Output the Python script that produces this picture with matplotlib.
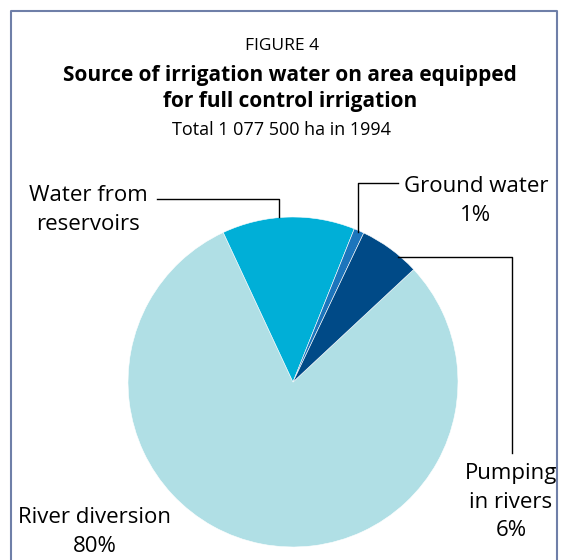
import matplotlib.pyplot as plt

W, H = 563, 560

labels = ["River diversion", "Water from\nreservoirs", "Ground water", "Pumping\nin rivers"]
shares = [80, 13, 1, 6]
colors = ["#b0dfe5", "#00afd7", "#1c75bc", "#004a87"]

plt.rcParams['font.family'] = ['Open Sans', 'DejaVu Sans']

fig = plt.figure(figsize=(W / 100, H / 100), dpi=100)
ax = fig.add_axes([0, 0, 1, 1])

def Y(y):
    # pixel row from the top -> data y
    return H - y

# pie, clockwise, river diversion starting at the upper right
ax.pie(shares, colors=colors, startangle=43, counterclock=False,
       center=(293, Y(382)), radius=165, frame=True,
       wedgeprops=dict(linewidth=0.4, edgecolor='white'))
ax.set_xlim(0, W)
ax.set_ylim(0, H)
ax.set_aspect('equal')
ax.axis('off')

# frame around the figure (bottom cut off in the original)
ax.plot([11, 11, 557, 557], [Y(560), Y(11), Y(11), Y(560)], color='#6f7fa8', lw=1.5)

# titles
ax.text(282, Y(46), "FIGURE 4", ha='center', va='center', fontsize=12.5)
ax.text(290, Y(75), "Source of irrigation water on area equipped", ha='center',
        va='center', fontsize=15, fontweight='bold')
ax.text(290, Y(101), "for full control irrigation", ha='center', va='center',
        fontsize=15, fontweight='bold')
ax.text(282, Y(130), "Total 1 077 500 ha in 1994", ha='center', va='center', fontsize=13)

lab = dict(ha='center', va='center', fontsize=16, linespacing=1.5)
lc = dict(color='black', lw=1.0)

# Water from reservoirs
ax.text(88, Y(210), labels[1], **lab)
ax.plot([157, 279, 279], [Y(199), Y(199), Y(217)], **lc)

# Ground water
ax.text(476, Y(201), "%s\n%d%%" % (labels[2], shares[2]), **lab)
ax.plot([398, 358, 358], [Y(183), Y(183), Y(232)], **lc)

# Pumping in rivers
ax.text(511, Y(502), "%s\n%d%%" % (labels[3], shares[3]), **lab)
ax.plot([398, 512, 512], [Y(257), Y(257), Y(453)], **lc)

# River diversion
ax.text(95, Y(532), "%s\n%d%%" % (labels[0], shares[0]), **lab)

fig.savefig("out.png", dpi=100, facecolor='white')
